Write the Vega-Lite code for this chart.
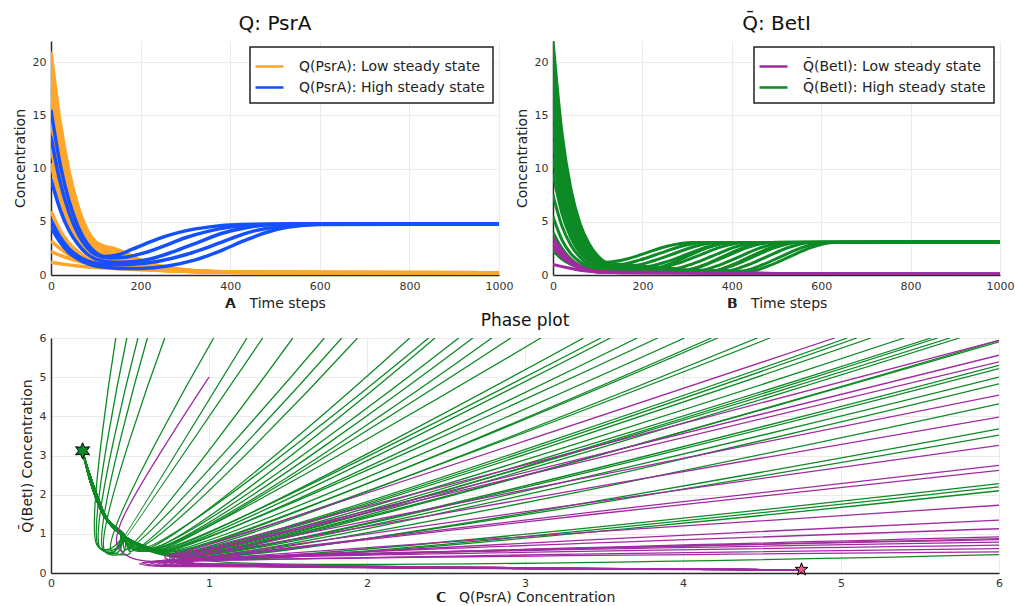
{
"$schema":"https://vega.github.io/schema/vega-lite/v6.json",
"background":"white",
"padding":{"left":13,"top":14,"right":5,"bottom":5},
"config":{
 "font":"DejaVu Sans",
 "view":{"stroke":null},
 "axis":{"domainColor":"#2b2b2b","domainWidth":1.5,"gridColor":"#ebebeb","gridWidth":1,"tickSize":0,"labelFontSize":11,"labelColor":"#333333","labelPadding":5,"labelFlush":false,"labelOverlap":false,"format":"d","titleFontSize":14,"titleFontWeight":"normal","titleColor":"#222222","titlePadding":5},
 "title":{"fontSize":20,"fontWeight":"normal","color":"#111111","offset":7},
 "legend":{"title":null,"orient":"top-right","offset":6,"strokeColor":"#222222","strokeWidth":1.5,"fillColor":"white","padding":8,"labelFontSize":14,"labelLimit":400,"labelColor":"#222222","symbolType":"M-1.4,0H1.4","symbolSize":400,"symbolStrokeWidth":2.5,"rowPadding":2,"labelOffset":18}
},
"datasets":{
"A":[
{"i":"o1","s":"L","t":0,"v":21},{"i":"o1","s":"L","t":20,"v":14.5},{"i":"o1","s":"L","t":40,"v":9.8},{"i":"o1","s":"L","t":60,"v":6.5},{"i":"o1","s":"L","t":80,"v":4.3},{"i":"o1","s":"L","t":100,"v":3.1},{"i":"o1","s":"L","t":120,"v":2.7},{"i":"o1","s":"L","t":140,"v":2.5},{"i":"o1","s":"L","t":170,"v":2.0},{"i":"o1","s":"L","t":200,"v":1.4},{"i":"o1","s":"L","t":250,"v":0.8},{"i":"o1","s":"L","t":300,"v":0.5},{"i":"o1","s":"L","t":400,"v":0.28},{"i":"o1","s":"L","t":500,"v":0.22},{"i":"o1","s":"L","t":1000,"v":0.2},
{"i":"o2","s":"L","t":0,"v":20},{"i":"o2","s":"L","t":20,"v":13.5},{"i":"o2","s":"L","t":40,"v":9},{"i":"o2","s":"L","t":60,"v":6},{"i":"o2","s":"L","t":80,"v":4},{"i":"o2","s":"L","t":100,"v":2.9},{"i":"o2","s":"L","t":120,"v":2.5},{"i":"o2","s":"L","t":150,"v":2.2},{"i":"o2","s":"L","t":200,"v":1.3},{"i":"o2","s":"L","t":250,"v":0.75},{"i":"o2","s":"L","t":300,"v":0.45},{"i":"o2","s":"L","t":400,"v":0.27},{"i":"o2","s":"L","t":500,"v":0.22},{"i":"o2","s":"L","t":1000,"v":0.2},
{"i":"o3","s":"L","t":0,"v":18.5},{"i":"o3","s":"L","t":20,"v":12.3},{"i":"o3","s":"L","t":40,"v":8.2},{"i":"o3","s":"L","t":60,"v":5.4},{"i":"o3","s":"L","t":80,"v":3.6},{"i":"o3","s":"L","t":100,"v":2.6},{"i":"o3","s":"L","t":130,"v":2.1},{"i":"o3","s":"L","t":170,"v":1.6},{"i":"o3","s":"L","t":220,"v":1.0},{"i":"o3","s":"L","t":280,"v":0.55},{"i":"o3","s":"L","t":350,"v":0.35},{"i":"o3","s":"L","t":450,"v":0.24},{"i":"o3","s":"L","t":1000,"v":0.2},
{"i":"o4","s":"L","t":0,"v":17},{"i":"o4","s":"L","t":20,"v":11.2},{"i":"o4","s":"L","t":40,"v":7.4},{"i":"o4","s":"L","t":60,"v":4.9},{"i":"o4","s":"L","t":80,"v":3.3},{"i":"o4","s":"L","t":100,"v":2.4},{"i":"o4","s":"L","t":130,"v":1.8},{"i":"o4","s":"L","t":170,"v":1.3},{"i":"o4","s":"L","t":220,"v":0.85},{"i":"o4","s":"L","t":280,"v":0.5},{"i":"o4","s":"L","t":350,"v":0.33},{"i":"o4","s":"L","t":450,"v":0.24},{"i":"o4","s":"L","t":1000,"v":0.2},
{"i":"o5","s":"L","t":0,"v":14.5},{"i":"o5","s":"L","t":20,"v":9.6},{"i":"o5","s":"L","t":40,"v":6.4},{"i":"o5","s":"L","t":60,"v":4.2},{"i":"o5","s":"L","t":80,"v":2.9},{"i":"o5","s":"L","t":100,"v":2.1},{"i":"o5","s":"L","t":130,"v":1.5},{"i":"o5","s":"L","t":170,"v":1.1},{"i":"o5","s":"L","t":220,"v":0.75},{"i":"o5","s":"L","t":280,"v":0.45},{"i":"o5","s":"L","t":350,"v":0.3},{"i":"o5","s":"L","t":450,"v":0.23},{"i":"o5","s":"L","t":1000,"v":0.2},
{"i":"o6","s":"L","t":0,"v":12},{"i":"o6","s":"L","t":20,"v":8},{"i":"o6","s":"L","t":40,"v":5.3},{"i":"o6","s":"L","t":60,"v":3.5},{"i":"o6","s":"L","t":80,"v":2.4},{"i":"o6","s":"L","t":100,"v":1.8},{"i":"o6","s":"L","t":130,"v":1.3},{"i":"o6","s":"L","t":170,"v":0.95},{"i":"o6","s":"L","t":220,"v":0.65},{"i":"o6","s":"L","t":300,"v":0.4},{"i":"o6","s":"L","t":400,"v":0.26},{"i":"o6","s":"L","t":1000,"v":0.2},
{"i":"o7","s":"L","t":0,"v":10.5},{"i":"o7","s":"L","t":20,"v":7},{"i":"o7","s":"L","t":40,"v":4.6},{"i":"o7","s":"L","t":60,"v":3.1},{"i":"o7","s":"L","t":80,"v":2.1},{"i":"o7","s":"L","t":100,"v":1.5},{"i":"o7","s":"L","t":130,"v":1.1},{"i":"o7","s":"L","t":170,"v":0.85},{"i":"o7","s":"L","t":220,"v":0.6},{"i":"o7","s":"L","t":300,"v":0.38},{"i":"o7","s":"L","t":400,"v":0.25},{"i":"o7","s":"L","t":1000,"v":0.2},
{"i":"o8","s":"L","t":0,"v":6},{"i":"o8","s":"L","t":20,"v":4.2},{"i":"o8","s":"L","t":40,"v":3},{"i":"o8","s":"L","t":60,"v":2.2},{"i":"o8","s":"L","t":80,"v":1.6},{"i":"o8","s":"L","t":100,"v":1.2},{"i":"o8","s":"L","t":130,"v":0.95},{"i":"o8","s":"L","t":170,"v":0.75},{"i":"o8","s":"L","t":220,"v":0.55},{"i":"o8","s":"L","t":300,"v":0.35},{"i":"o8","s":"L","t":400,"v":0.25},{"i":"o8","s":"L","t":1000,"v":0.2},
{"i":"o9","s":"L","t":0,"v":4.5},{"i":"o9","s":"L","t":20,"v":3.3},{"i":"o9","s":"L","t":40,"v":2.4},{"i":"o9","s":"L","t":60,"v":1.8},{"i":"o9","s":"L","t":80,"v":1.35},{"i":"o9","s":"L","t":100,"v":1.05},{"i":"o9","s":"L","t":140,"v":0.8},{"i":"o9","s":"L","t":200,"v":0.6},{"i":"o9","s":"L","t":300,"v":0.35},{"i":"o9","s":"L","t":400,"v":0.25},{"i":"o9","s":"L","t":1000,"v":0.2},
{"i":"o10","s":"L","t":0,"v":3.2},{"i":"o10","s":"L","t":20,"v":2.5},{"i":"o10","s":"L","t":40,"v":1.9},{"i":"o10","s":"L","t":60,"v":1.5},{"i":"o10","s":"L","t":80,"v":1.15},{"i":"o10","s":"L","t":100,"v":0.95},{"i":"o10","s":"L","t":140,"v":0.75},{"i":"o10","s":"L","t":200,"v":0.55},{"i":"o10","s":"L","t":300,"v":0.35},{"i":"o10","s":"L","t":400,"v":0.25},{"i":"o10","s":"L","t":1000,"v":0.2},
{"i":"o11","s":"L","t":0,"v":2.2},{"i":"o11","s":"L","t":30,"v":1.7},{"i":"o11","s":"L","t":60,"v":1.3},{"i":"o11","s":"L","t":100,"v":0.95},{"i":"o11","s":"L","t":150,"v":0.7},{"i":"o11","s":"L","t":200,"v":0.55},{"i":"o11","s":"L","t":300,"v":0.35},{"i":"o11","s":"L","t":400,"v":0.25},{"i":"o11","s":"L","t":1000,"v":0.2},
{"i":"o12","s":"L","t":0,"v":1.2},{"i":"o12","s":"L","t":30,"v":1.0},{"i":"o12","s":"L","t":60,"v":0.85},{"i":"o12","s":"L","t":100,"v":0.7},{"i":"o12","s":"L","t":150,"v":0.6},{"i":"o12","s":"L","t":200,"v":0.5},{"i":"o12","s":"L","t":300,"v":0.35},{"i":"o12","s":"L","t":400,"v":0.25},{"i":"o12","s":"L","t":1000,"v":0.2},
{"i":"b1","s":"H","t":0,"v":15.5},{"i":"b1","s":"H","t":20,"v":10.5},{"i":"b1","s":"H","t":40,"v":7},{"i":"b1","s":"H","t":60,"v":4.6},{"i":"b1","s":"H","t":80,"v":3},{"i":"b1","s":"H","t":100,"v":2.1},{"i":"b1","s":"H","t":120,"v":1.75},{"i":"b1","s":"H","t":150,"v":1.9},{"i":"b1","s":"H","t":180,"v":2.4},{"i":"b1","s":"H","t":220,"v":3.1},{"i":"b1","s":"H","t":260,"v":3.7},{"i":"b1","s":"H","t":300,"v":4.15},{"i":"b1","s":"H","t":350,"v":4.5},{"i":"b1","s":"H","t":400,"v":4.7},{"i":"b1","s":"H","t":500,"v":4.8},{"i":"b1","s":"H","t":1000,"v":4.8},
{"i":"b2","s":"H","t":0,"v":13},{"i":"b2","s":"H","t":20,"v":8.8},{"i":"b2","s":"H","t":40,"v":5.9},{"i":"b2","s":"H","t":60,"v":3.9},{"i":"b2","s":"H","t":80,"v":2.6},{"i":"b2","s":"H","t":100,"v":1.9},{"i":"b2","s":"H","t":130,"v":1.6},{"i":"b2","s":"H","t":170,"v":1.7},{"i":"b2","s":"H","t":210,"v":2.1},{"i":"b2","s":"H","t":250,"v":2.7},{"i":"b2","s":"H","t":300,"v":3.5},{"i":"b2","s":"H","t":350,"v":4.1},{"i":"b2","s":"H","t":400,"v":4.5},{"i":"b2","s":"H","t":450,"v":4.7},{"i":"b2","s":"H","t":550,"v":4.8},{"i":"b2","s":"H","t":1000,"v":4.8},
{"i":"b3","s":"H","t":0,"v":9},{"i":"b3","s":"H","t":20,"v":6.2},{"i":"b3","s":"H","t":40,"v":4.2},{"i":"b3","s":"H","t":60,"v":2.9},{"i":"b3","s":"H","t":80,"v":2.0},{"i":"b3","s":"H","t":100,"v":1.5},{"i":"b3","s":"H","t":140,"v":1.2},{"i":"b3","s":"H","t":180,"v":1.25},{"i":"b3","s":"H","t":230,"v":1.6},{"i":"b3","s":"H","t":280,"v":2.3},{"i":"b3","s":"H","t":330,"v":3.1},{"i":"b3","s":"H","t":380,"v":3.9},{"i":"b3","s":"H","t":430,"v":4.4},{"i":"b3","s":"H","t":480,"v":4.7},{"i":"b3","s":"H","t":580,"v":4.8},{"i":"b3","s":"H","t":1000,"v":4.8},
{"i":"b4","s":"H","t":0,"v":5.2},{"i":"b4","s":"H","t":20,"v":3.6},{"i":"b4","s":"H","t":40,"v":2.5},{"i":"b4","s":"H","t":60,"v":1.8},{"i":"b4","s":"H","t":80,"v":1.35},{"i":"b4","s":"H","t":100,"v":1.1},{"i":"b4","s":"H","t":140,"v":0.95},{"i":"b4","s":"H","t":180,"v":1.0},{"i":"b4","s":"H","t":240,"v":1.3},{"i":"b4","s":"H","t":300,"v":1.9},{"i":"b4","s":"H","t":350,"v":2.6},{"i":"b4","s":"H","t":400,"v":3.4},{"i":"b4","s":"H","t":450,"v":4.1},{"i":"b4","s":"H","t":500,"v":4.5},{"i":"b4","s":"H","t":550,"v":4.7},{"i":"b4","s":"H","t":620,"v":4.8},{"i":"b4","s":"H","t":1000,"v":4.8},
{"i":"b5","s":"H","t":0,"v":4.5},{"i":"b5","s":"H","t":20,"v":3.1},{"i":"b5","s":"H","t":40,"v":2.1},{"i":"b5","s":"H","t":60,"v":1.5},{"i":"b5","s":"H","t":80,"v":1.1},{"i":"b5","s":"H","t":100,"v":0.85},{"i":"b5","s":"H","t":130,"v":0.7},{"i":"b5","s":"H","t":165,"v":0.6},{"i":"b5","s":"H","t":200,"v":0.62},{"i":"b5","s":"H","t":260,"v":0.85},{"i":"b5","s":"H","t":320,"v":1.4},{"i":"b5","s":"H","t":380,"v":2.3},{"i":"b5","s":"H","t":430,"v":3.2},{"i":"b5","s":"H","t":480,"v":4.0},{"i":"b5","s":"H","t":530,"v":4.5},{"i":"b5","s":"H","t":600,"v":4.75},{"i":"b5","s":"H","t":1000,"v":4.8}
],
"B":[
{"i":"g1","s":"H","t":0,"v":22},{"i":"g1","s":"H","t":20,"v":13.4},{"i":"g1","s":"H","t":40,"v":8.1},{"i":"g1","s":"H","t":60,"v":4.9},{"i":"g1","s":"H","t":80,"v":3.0},{"i":"g1","s":"H","t":100,"v":1.8},{"i":"g1","s":"H","t":120,"v":1.2},{"i":"g1","s":"H","t":165,"v":1.5},{"i":"g1","s":"H","t":210,"v":2.1},{"i":"g1","s":"H","t":255,"v":2.7},{"i":"g1","s":"H","t":310,"v":3.05},{"i":"g1","s":"H","t":1000,"v":3.1},
{"i":"g2","s":"H","t":0,"v":21},{"i":"g2","s":"H","t":20,"v":12.7},{"i":"g2","s":"H","t":40,"v":7.7},{"i":"g2","s":"H","t":60,"v":4.7},{"i":"g2","s":"H","t":80,"v":2.8},{"i":"g2","s":"H","t":100,"v":1.7},{"i":"g2","s":"H","t":130,"v":1.0},{"i":"g2","s":"H","t":150,"v":1.0},{"i":"g2","s":"H","t":195,"v":1.42},{"i":"g2","s":"H","t":240,"v":2.05},{"i":"g2","s":"H","t":285,"v":2.68},{"i":"g2","s":"H","t":340,"v":3.05},{"i":"g2","s":"H","t":1000,"v":3.1},
{"i":"g3","s":"H","t":0,"v":20},{"i":"g3","s":"H","t":20,"v":12.1},{"i":"g3","s":"H","t":40,"v":7.4},{"i":"g3","s":"H","t":60,"v":4.5},{"i":"g3","s":"H","t":80,"v":2.7},{"i":"g3","s":"H","t":100,"v":1.6},{"i":"g3","s":"H","t":130,"v":0.9},{"i":"g3","s":"H","t":180,"v":0.9},{"i":"g3","s":"H","t":225,"v":1.34},{"i":"g3","s":"H","t":270,"v":2.0},{"i":"g3","s":"H","t":315,"v":2.66},{"i":"g3","s":"H","t":370,"v":3.05},{"i":"g3","s":"H","t":1000,"v":3.1},
{"i":"g4","s":"H","t":0,"v":19},{"i":"g4","s":"H","t":20,"v":11.5},{"i":"g4","s":"H","t":40,"v":7},{"i":"g4","s":"H","t":60,"v":4.2},{"i":"g4","s":"H","t":80,"v":2.6},{"i":"g4","s":"H","t":100,"v":1.6},{"i":"g4","s":"H","t":130,"v":0.8},{"i":"g4","s":"H","t":210,"v":0.8},{"i":"g4","s":"H","t":255,"v":1.26},{"i":"g4","s":"H","t":300,"v":1.95},{"i":"g4","s":"H","t":345,"v":2.64},{"i":"g4","s":"H","t":400,"v":3.05},{"i":"g4","s":"H","t":1000,"v":3.1},
{"i":"g5","s":"H","t":0,"v":18},{"i":"g5","s":"H","t":20,"v":10.9},{"i":"g5","s":"H","t":40,"v":6.6},{"i":"g5","s":"H","t":60,"v":4.0},{"i":"g5","s":"H","t":80,"v":2.4},{"i":"g5","s":"H","t":100,"v":1.5},{"i":"g5","s":"H","t":130,"v":0.7},{"i":"g5","s":"H","t":240,"v":0.7},{"i":"g5","s":"H","t":285,"v":1.18},{"i":"g5","s":"H","t":330,"v":1.9},{"i":"g5","s":"H","t":375,"v":2.62},{"i":"g5","s":"H","t":430,"v":3.05},{"i":"g5","s":"H","t":1000,"v":3.1},
{"i":"g6","s":"H","t":0,"v":17},{"i":"g6","s":"H","t":20,"v":10.3},{"i":"g6","s":"H","t":40,"v":6.3},{"i":"g6","s":"H","t":60,"v":3.8},{"i":"g6","s":"H","t":80,"v":2.3},{"i":"g6","s":"H","t":100,"v":1.4},{"i":"g6","s":"H","t":130,"v":0.6},{"i":"g6","s":"H","t":270,"v":0.6},{"i":"g6","s":"H","t":315,"v":1.1},{"i":"g6","s":"H","t":360,"v":1.85},{"i":"g6","s":"H","t":405,"v":2.6},{"i":"g6","s":"H","t":460,"v":3.05},{"i":"g6","s":"H","t":1000,"v":3.1},
{"i":"g7","s":"H","t":0,"v":15.5},{"i":"g7","s":"H","t":20,"v":9.4},{"i":"g7","s":"H","t":40,"v":5.7},{"i":"g7","s":"H","t":60,"v":3.5},{"i":"g7","s":"H","t":80,"v":2.1},{"i":"g7","s":"H","t":100,"v":1.3},{"i":"g7","s":"H","t":130,"v":0.5},{"i":"g7","s":"H","t":300,"v":0.5},{"i":"g7","s":"H","t":345,"v":1.02},{"i":"g7","s":"H","t":390,"v":1.8},{"i":"g7","s":"H","t":435,"v":2.58},{"i":"g7","s":"H","t":490,"v":3.05},{"i":"g7","s":"H","t":1000,"v":3.1},
{"i":"g8","s":"H","t":0,"v":14},{"i":"g8","s":"H","t":20,"v":8.5},{"i":"g8","s":"H","t":40,"v":5.2},{"i":"g8","s":"H","t":60,"v":3.1},{"i":"g8","s":"H","t":80,"v":1.9},{"i":"g8","s":"H","t":100,"v":1.15},{"i":"g8","s":"H","t":130,"v":0.45},{"i":"g8","s":"H","t":330,"v":0.45},{"i":"g8","s":"H","t":375,"v":0.98},{"i":"g8","s":"H","t":420,"v":1.78},{"i":"g8","s":"H","t":465,"v":2.57},{"i":"g8","s":"H","t":520,"v":3.05},{"i":"g8","s":"H","t":1000,"v":3.1},
{"i":"g9","s":"H","t":0,"v":12.5},{"i":"g9","s":"H","t":20,"v":7.6},{"i":"g9","s":"H","t":40,"v":4.6},{"i":"g9","s":"H","t":60,"v":2.8},{"i":"g9","s":"H","t":80,"v":1.7},{"i":"g9","s":"H","t":100,"v":1.0},{"i":"g9","s":"H","t":130,"v":0.4},{"i":"g9","s":"H","t":360,"v":0.4},{"i":"g9","s":"H","t":405,"v":0.94},{"i":"g9","s":"H","t":450,"v":1.75},{"i":"g9","s":"H","t":495,"v":2.56},{"i":"g9","s":"H","t":550,"v":3.05},{"i":"g9","s":"H","t":1000,"v":3.1},
{"i":"g10","s":"H","t":0,"v":11},{"i":"g10","s":"H","t":20,"v":6.7},{"i":"g10","s":"H","t":40,"v":4.0},{"i":"g10","s":"H","t":60,"v":2.5},{"i":"g10","s":"H","t":80,"v":1.5},{"i":"g10","s":"H","t":100,"v":0.9},{"i":"g10","s":"H","t":130,"v":0.4},{"i":"g10","s":"H","t":390,"v":0.4},{"i":"g10","s":"H","t":435,"v":0.94},{"i":"g10","s":"H","t":480,"v":1.75},{"i":"g10","s":"H","t":525,"v":2.56},{"i":"g10","s":"H","t":580,"v":3.05},{"i":"g10","s":"H","t":1000,"v":3.1},
{"i":"g11","s":"H","t":0,"v":9.5},{"i":"g11","s":"H","t":20,"v":5.8},{"i":"g11","s":"H","t":40,"v":3.5},{"i":"g11","s":"H","t":60,"v":2.1},{"i":"g11","s":"H","t":80,"v":1.3},{"i":"g11","s":"H","t":100,"v":0.8},{"i":"g11","s":"H","t":130,"v":0.35},{"i":"g11","s":"H","t":420,"v":0.35},{"i":"g11","s":"H","t":465,"v":0.9},{"i":"g11","s":"H","t":510,"v":1.73},{"i":"g11","s":"H","t":555,"v":2.55},{"i":"g11","s":"H","t":610,"v":3.05},{"i":"g11","s":"H","t":1000,"v":3.1},
{"i":"g12","s":"H","t":0,"v":7.5},{"i":"g12","s":"H","t":20,"v":4.6},{"i":"g12","s":"H","t":40,"v":2.8},{"i":"g12","s":"H","t":60,"v":1.7},{"i":"g12","s":"H","t":80,"v":1.0},{"i":"g12","s":"H","t":100,"v":0.62},{"i":"g12","s":"H","t":130,"v":0.35},{"i":"g12","s":"H","t":440,"v":0.35},{"i":"g12","s":"H","t":485,"v":0.9},{"i":"g12","s":"H","t":530,"v":1.73},{"i":"g12","s":"H","t":575,"v":2.55},{"i":"g12","s":"H","t":630,"v":3.05},{"i":"g12","s":"H","t":1000,"v":3.1},
{"i":"g13","s":"H","t":0,"v":5.5},{"i":"g13","s":"H","t":20,"v":3.3},{"i":"g13","s":"H","t":40,"v":2.0},{"i":"g13","s":"H","t":60,"v":1.25},{"i":"g13","s":"H","t":80,"v":0.75},{"i":"g13","s":"H","t":100,"v":0.45},{"i":"g13","s":"H","t":130,"v":0.3},{"i":"g13","s":"H","t":350,"v":0.3},{"i":"g13","s":"H","t":395,"v":0.86},{"i":"g13","s":"H","t":440,"v":1.7},{"i":"g13","s":"H","t":485,"v":2.54},{"i":"g13","s":"H","t":540,"v":3.05},{"i":"g13","s":"H","t":1000,"v":3.1},
{"i":"g14","s":"H","t":0,"v":4},{"i":"g14","s":"H","t":20,"v":2.5},{"i":"g14","s":"H","t":40,"v":1.5},{"i":"g14","s":"H","t":60,"v":0.9},{"i":"g14","s":"H","t":80,"v":0.55},{"i":"g14","s":"H","t":100,"v":0.4},{"i":"g14","s":"H","t":130,"v":0.35},{"i":"g14","s":"H","t":290,"v":0.35},{"i":"g14","s":"H","t":335,"v":0.9},{"i":"g14","s":"H","t":380,"v":1.73},{"i":"g14","s":"H","t":425,"v":2.55},{"i":"g14","s":"H","t":480,"v":3.05},{"i":"g14","s":"H","t":1000,"v":3.1},
{"i":"g15","s":"H","t":0,"v":2.3},{"i":"g15","s":"H","t":20,"v":1.5},{"i":"g15","s":"H","t":40,"v":1.0},{"i":"g15","s":"H","t":60,"v":0.7},{"i":"g15","s":"H","t":80,"v":0.5},{"i":"g15","s":"H","t":100,"v":0.42},{"i":"g15","s":"H","t":130,"v":0.4},{"i":"g15","s":"H","t":210,"v":0.4},{"i":"g15","s":"H","t":255,"v":0.94},{"i":"g15","s":"H","t":300,"v":1.75},{"i":"g15","s":"H","t":345,"v":2.56},{"i":"g15","s":"H","t":400,"v":3.05},{"i":"g15","s":"H","t":1000,"v":3.1},
{"i":"p1","s":"L","t":0,"v":3.5},{"i":"p1","s":"L","t":20,"v":2.3},{"i":"p1","s":"L","t":40,"v":1.4},{"i":"p1","s":"L","t":60,"v":0.85},{"i":"p1","s":"L","t":80,"v":0.5},{"i":"p1","s":"L","t":100,"v":0.3},{"i":"p1","s":"L","t":150,"v":0.22},{"i":"p1","s":"L","t":250,"v":0.2},{"i":"p1","s":"L","t":400,"v":0.15},{"i":"p1","s":"L","t":600,"v":0.1},{"i":"p1","s":"L","t":1000,"v":0.1},
{"i":"p2","s":"L","t":0,"v":3.0},{"i":"p2","s":"L","t":20,"v":2.0},{"i":"p2","s":"L","t":40,"v":1.2},{"i":"p2","s":"L","t":60,"v":0.75},{"i":"p2","s":"L","t":80,"v":0.45},{"i":"p2","s":"L","t":100,"v":0.3},{"i":"p2","s":"L","t":150,"v":0.22},{"i":"p2","s":"L","t":300,"v":0.2},{"i":"p2","s":"L","t":500,"v":0.15},{"i":"p2","s":"L","t":600,"v":0.1},{"i":"p2","s":"L","t":1000,"v":0.1},
{"i":"p3","s":"L","t":0,"v":2.6},{"i":"p3","s":"L","t":20,"v":1.7},{"i":"p3","s":"L","t":40,"v":1.05},{"i":"p3","s":"L","t":60,"v":0.65},{"i":"p3","s":"L","t":80,"v":0.4},{"i":"p3","s":"L","t":100,"v":0.27},{"i":"p3","s":"L","t":200,"v":0.22},{"i":"p3","s":"L","t":400,"v":0.18},{"i":"p3","s":"L","t":550,"v":0.12},{"i":"p3","s":"L","t":1000,"v":0.1},
{"i":"p4","s":"L","t":0,"v":1.0},{"i":"p4","s":"L","t":30,"v":0.7},{"i":"p4","s":"L","t":60,"v":0.45},{"i":"p4","s":"L","t":100,"v":0.3},{"i":"p4","s":"L","t":200,"v":0.25},{"i":"p4","s":"L","t":400,"v":0.2},{"i":"p4","s":"L","t":550,"v":0.12},{"i":"p4","s":"L","t":1000,"v":0.1}
],
"C":[
{"i":"g1","s":"G","x":0.41,"y":6},{"i":"g1","s":"G","x":0.29,"y":0.72},{"i":"g1","s":"G","x":0.36,"y":0.6},{"i":"g1","s":"G","x":0.45,"y":0.96},{"i":"g1","s":"G","x":0.35,"y":1.39},{"i":"g1","s":"G","x":0.27,"y":2.15},{"i":"g1","s":"G","x":0.2,"y":3.1},
{"i":"g2","s":"G","x":0.48,"y":6},{"i":"g2","s":"G","x":0.30,"y":0.68},{"i":"g2","s":"G","x":0.38,"y":0.57},{"i":"g2","s":"G","x":0.47,"y":0.93},{"i":"g2","s":"G","x":0.36,"y":1.36},{"i":"g2","s":"G","x":0.28,"y":2.12},{"i":"g2","s":"G","x":0.2,"y":3.1},
{"i":"g3","s":"G","x":0.55,"y":6},{"i":"g3","s":"G","x":0.31,"y":0.64},{"i":"g3","s":"G","x":0.40,"y":0.54},{"i":"g3","s":"G","x":0.44,"y":0.99},{"i":"g3","s":"G","x":0.34,"y":1.42},{"i":"g3","s":"G","x":0.26,"y":2.18},{"i":"g3","s":"G","x":0.2,"y":3.1},
{"i":"g4","s":"G","x":0.61,"y":6},{"i":"g4","s":"G","x":0.33,"y":0.6},{"i":"g4","s":"G","x":0.42,"y":0.52},{"i":"g4","s":"G","x":0.45,"y":0.96},{"i":"g4","s":"G","x":0.35,"y":1.39},{"i":"g4","s":"G","x":0.27,"y":2.15},{"i":"g4","s":"G","x":0.2,"y":3.1},
{"i":"g5","s":"G","x":0.72,"y":6},{"i":"g5","s":"G","x":0.34,"y":0.56},{"i":"g5","s":"G","x":0.45,"y":0.5},{"i":"g5","s":"G","x":0.47,"y":0.93},{"i":"g5","s":"G","x":0.36,"y":1.36},{"i":"g5","s":"G","x":0.28,"y":2.12},{"i":"g5","s":"G","x":0.2,"y":3.1},
{"i":"g6","s":"G","x":1.03,"y":6},{"i":"g6","s":"G","x":0.38,"y":0.58},{"i":"g6","s":"G","x":0.5,"y":0.5},{"i":"g6","s":"G","x":0.44,"y":0.99},{"i":"g6","s":"G","x":0.34,"y":1.42},{"i":"g6","s":"G","x":0.26,"y":2.18},{"i":"g6","s":"G","x":0.2,"y":3.1},
{"i":"g7","s":"G","x":1.24,"y":6},{"i":"g7","s":"G","x":0.40,"y":0.55},{"i":"g7","s":"G","x":0.45,"y":0.96},{"i":"g7","s":"G","x":0.35,"y":1.39},{"i":"g7","s":"G","x":0.27,"y":2.15},{"i":"g7","s":"G","x":0.2,"y":3.1},
{"i":"g8","s":"G","x":1.34,"y":6},{"i":"g8","s":"G","x":0.42,"y":0.6},{"i":"g8","s":"G","x":0.47,"y":0.93},{"i":"g8","s":"G","x":0.36,"y":1.36},{"i":"g8","s":"G","x":0.28,"y":2.12},{"i":"g8","s":"G","x":0.2,"y":3.1},
{"i":"g9","s":"G","x":1.53,"y":6},{"i":"g9","s":"G","x":0.45,"y":0.55},{"i":"g9","s":"G","x":0.44,"y":0.99},{"i":"g9","s":"G","x":0.34,"y":1.42},{"i":"g9","s":"G","x":0.26,"y":2.18},{"i":"g9","s":"G","x":0.2,"y":3.1},
{"i":"g10","s":"G","x":1.73,"y":6},{"i":"g10","s":"G","x":0.47,"y":0.6},{"i":"g10","s":"G","x":0.45,"y":0.96},{"i":"g10","s":"G","x":0.35,"y":1.39},{"i":"g10","s":"G","x":0.27,"y":2.15},{"i":"g10","s":"G","x":0.2,"y":3.1},
{"i":"g11","s":"G","x":1.84,"y":6},{"i":"g11","s":"G","x":0.5,"y":0.55},{"i":"g11","s":"G","x":0.47,"y":0.93},{"i":"g11","s":"G","x":0.36,"y":1.36},{"i":"g11","s":"G","x":0.28,"y":2.12},{"i":"g11","s":"G","x":0.2,"y":3.1},
{"i":"g12","s":"G","x":1.94,"y":6},{"i":"g12","s":"G","x":0.52,"y":0.6},{"i":"g12","s":"G","x":0.44,"y":0.99},{"i":"g12","s":"G","x":0.34,"y":1.42},{"i":"g12","s":"G","x":0.26,"y":2.18},{"i":"g12","s":"G","x":0.2,"y":3.1},
{"i":"g13","s":"G","x":2.27,"y":6},{"i":"g13","s":"G","x":0.55,"y":0.55},{"i":"g13","s":"G","x":0.45,"y":0.96},{"i":"g13","s":"G","x":0.35,"y":1.39},{"i":"g13","s":"G","x":0.27,"y":2.15},{"i":"g13","s":"G","x":0.2,"y":3.1},
{"i":"g14","s":"G","x":2.39,"y":6},{"i":"g14","s":"G","x":0.55,"y":0.6},{"i":"g14","s":"G","x":0.47,"y":0.93},{"i":"g14","s":"G","x":0.36,"y":1.36},{"i":"g14","s":"G","x":0.28,"y":2.12},{"i":"g14","s":"G","x":0.2,"y":3.1},
{"i":"g15","s":"G","x":2.43,"y":6},{"i":"g15","s":"G","x":0.58,"y":0.55},{"i":"g15","s":"G","x":0.44,"y":0.99},{"i":"g15","s":"G","x":0.34,"y":1.42},{"i":"g15","s":"G","x":0.26,"y":2.18},{"i":"g15","s":"G","x":0.2,"y":3.1},
{"i":"g16","s":"G","x":2.58,"y":6},{"i":"g16","s":"G","x":0.6,"y":0.6},{"i":"g16","s":"G","x":0.45,"y":0.96},{"i":"g16","s":"G","x":0.35,"y":1.39},{"i":"g16","s":"G","x":0.27,"y":2.15},{"i":"g16","s":"G","x":0.2,"y":3.1},
{"i":"g17","s":"G","x":2.67,"y":6},{"i":"g17","s":"G","x":0.6,"y":0.55},{"i":"g17","s":"G","x":0.47,"y":0.93},{"i":"g17","s":"G","x":0.36,"y":1.36},{"i":"g17","s":"G","x":0.28,"y":2.12},{"i":"g17","s":"G","x":0.2,"y":3.1},
{"i":"g18","s":"G","x":2.79,"y":6},{"i":"g18","s":"G","x":0.62,"y":0.6},{"i":"g18","s":"G","x":0.44,"y":0.99},{"i":"g18","s":"G","x":0.34,"y":1.42},{"i":"g18","s":"G","x":0.26,"y":2.18},{"i":"g18","s":"G","x":0.2,"y":3.1},
{"i":"g19","s":"G","x":2.91,"y":6},{"i":"g19","s":"G","x":0.65,"y":0.55},{"i":"g19","s":"G","x":0.58,"y":0.68},{"i":"g19","s":"G","x":0.45,"y":0.96},{"i":"g19","s":"G","x":0.35,"y":1.39},{"i":"g19","s":"G","x":0.27,"y":2.15},{"i":"g19","s":"G","x":0.2,"y":3.1},
{"i":"g20","s":"G","x":3.10,"y":6},{"i":"g20","s":"G","x":0.66,"y":0.6},{"i":"g20","s":"G","x":0.6,"y":0.68},{"i":"g20","s":"G","x":0.47,"y":0.93},{"i":"g20","s":"G","x":0.36,"y":1.36},{"i":"g20","s":"G","x":0.28,"y":2.12},{"i":"g20","s":"G","x":0.2,"y":3.1},
{"i":"g21","s":"G","x":3.37,"y":6},{"i":"g21","s":"G","x":0.68,"y":0.55},{"i":"g21","s":"G","x":0.6,"y":0.66},{"i":"g21","s":"G","x":0.44,"y":0.99},{"i":"g21","s":"G","x":0.34,"y":1.42},{"i":"g21","s":"G","x":0.26,"y":2.18},{"i":"g21","s":"G","x":0.2,"y":3.1},
{"i":"g22","s":"G","x":3.48,"y":6},{"i":"g22","s":"G","x":0.7,"y":0.6},{"i":"g22","s":"G","x":0.62,"y":0.66},{"i":"g22","s":"G","x":0.45,"y":0.96},{"i":"g22","s":"G","x":0.35,"y":1.39},{"i":"g22","s":"G","x":0.27,"y":2.15},{"i":"g22","s":"G","x":0.2,"y":3.1},
{"i":"g23","s":"G","x":3.54,"y":6},{"i":"g23","s":"G","x":0.7,"y":0.55},{"i":"g23","s":"G","x":0.62,"y":0.64},{"i":"g23","s":"G","x":0.47,"y":0.93},{"i":"g23","s":"G","x":0.36,"y":1.36},{"i":"g23","s":"G","x":0.28,"y":2.12},{"i":"g23","s":"G","x":0.2,"y":3.1},
{"i":"g24","s":"G","x":3.71,"y":6},{"i":"g24","s":"G","x":0.72,"y":0.55},{"i":"g24","s":"G","x":0.62,"y":0.64},{"i":"g24","s":"G","x":0.44,"y":0.99},{"i":"g24","s":"G","x":0.34,"y":1.42},{"i":"g24","s":"G","x":0.26,"y":2.18},{"i":"g24","s":"G","x":0.2,"y":3.1},
{"i":"g25","s":"G","x":3.84,"y":6},{"i":"g25","s":"G","x":0.74,"y":0.6},{"i":"g25","s":"G","x":0.62,"y":0.66},{"i":"g25","s":"G","x":0.45,"y":0.96},{"i":"g25","s":"G","x":0.35,"y":1.39},{"i":"g25","s":"G","x":0.27,"y":2.15},{"i":"g25","s":"G","x":0.2,"y":3.1},
{"i":"g26","s":"G","x":4.01,"y":6},{"i":"g26","s":"G","x":0.75,"y":0.55},{"i":"g26","s":"G","x":0.62,"y":0.64},{"i":"g26","s":"G","x":0.47,"y":0.93},{"i":"g26","s":"G","x":0.36,"y":1.36},{"i":"g26","s":"G","x":0.28,"y":2.12},{"i":"g26","s":"G","x":0.2,"y":3.1},
{"i":"g27","s":"G","x":4.18,"y":6},{"i":"g27","s":"G","x":0.76,"y":0.5},{"i":"g27","s":"G","x":0.62,"y":0.62},{"i":"g27","s":"G","x":0.44,"y":0.99},{"i":"g27","s":"G","x":0.34,"y":1.42},{"i":"g27","s":"G","x":0.26,"y":2.18},{"i":"g27","s":"G","x":0.2,"y":3.1},
{"i":"g28","s":"G","x":4.22,"y":6},{"i":"g28","s":"G","x":0.78,"y":0.55},{"i":"g28","s":"G","x":0.62,"y":0.64},{"i":"g28","s":"G","x":0.45,"y":0.96},{"i":"g28","s":"G","x":0.35,"y":1.39},{"i":"g28","s":"G","x":0.27,"y":2.15},{"i":"g28","s":"G","x":0.2,"y":3.1},
{"i":"g29","s":"G","x":4.47,"y":6},{"i":"g29","s":"G","x":0.8,"y":0.5},{"i":"g29","s":"G","x":0.62,"y":0.62},{"i":"g29","s":"G","x":0.47,"y":0.93},{"i":"g29","s":"G","x":0.36,"y":1.36},{"i":"g29","s":"G","x":0.28,"y":2.12},{"i":"g29","s":"G","x":0.2,"y":3.1},
{"i":"g30","s":"G","x":4.55,"y":6},{"i":"g30","s":"G","x":0.8,"y":0.55},{"i":"g30","s":"G","x":0.62,"y":0.64},{"i":"g30","s":"G","x":0.44,"y":0.99},{"i":"g30","s":"G","x":0.34,"y":1.42},{"i":"g30","s":"G","x":0.26,"y":2.18},{"i":"g30","s":"G","x":0.2,"y":3.1},
{"i":"g31","s":"G","x":5.04,"y":6},{"i":"g31","s":"G","x":0.82,"y":0.5},{"i":"g31","s":"G","x":0.62,"y":0.62},{"i":"g31","s":"G","x":0.45,"y":0.96},{"i":"g31","s":"G","x":0.35,"y":1.39},{"i":"g31","s":"G","x":0.27,"y":2.15},{"i":"g31","s":"G","x":0.2,"y":3.1},
{"i":"g32","s":"G","x":5.10,"y":6},{"i":"g32","s":"G","x":0.84,"y":0.5},{"i":"g32","s":"G","x":0.62,"y":0.62},{"i":"g32","s":"G","x":0.47,"y":0.93},{"i":"g32","s":"G","x":0.36,"y":1.36},{"i":"g32","s":"G","x":0.28,"y":2.12},{"i":"g32","s":"G","x":0.2,"y":3.1},
{"i":"g33","s":"G","x":5.19,"y":6},{"i":"g33","s":"G","x":0.85,"y":0.5},{"i":"g33","s":"G","x":0.62,"y":0.62},{"i":"g33","s":"G","x":0.44,"y":0.99},{"i":"g33","s":"G","x":0.34,"y":1.42},{"i":"g33","s":"G","x":0.26,"y":2.18},{"i":"g33","s":"G","x":0.2,"y":3.1},
{"i":"g34","s":"G","x":5.40,"y":6},{"i":"g34","s":"G","x":0.86,"y":0.5},{"i":"g34","s":"G","x":0.62,"y":0.62},{"i":"g34","s":"G","x":0.45,"y":0.96},{"i":"g34","s":"G","x":0.35,"y":1.39},{"i":"g34","s":"G","x":0.27,"y":2.15},{"i":"g34","s":"G","x":0.2,"y":3.1},
{"i":"g35","s":"G","x":5.57,"y":6},{"i":"g35","s":"G","x":0.88,"y":0.5},{"i":"g35","s":"G","x":0.62,"y":0.62},{"i":"g35","s":"G","x":0.47,"y":0.93},{"i":"g35","s":"G","x":0.36,"y":1.36},{"i":"g35","s":"G","x":0.28,"y":2.12},{"i":"g35","s":"G","x":0.2,"y":3.1},
{"i":"g36","s":"G","x":5.61,"y":6},{"i":"g36","s":"G","x":0.88,"y":0.45},{"i":"g36","s":"G","x":0.62,"y":0.6},{"i":"g36","s":"G","x":0.44,"y":0.99},{"i":"g36","s":"G","x":0.34,"y":1.42},{"i":"g36","s":"G","x":0.26,"y":2.18},{"i":"g36","s":"G","x":0.2,"y":3.1},
{"i":"g37","s":"G","x":5.69,"y":6},{"i":"g37","s":"G","x":0.9,"y":0.5},{"i":"g37","s":"G","x":0.62,"y":0.62},{"i":"g37","s":"G","x":0.45,"y":0.96},{"i":"g37","s":"G","x":0.35,"y":1.39},{"i":"g37","s":"G","x":0.27,"y":2.15},{"i":"g37","s":"G","x":0.2,"y":3.1},
{"i":"g38","s":"G","x":5.75,"y":6},{"i":"g38","s":"G","x":0.9,"y":0.45},{"i":"g38","s":"G","x":0.62,"y":0.6},{"i":"g38","s":"G","x":0.47,"y":0.93},{"i":"g38","s":"G","x":0.36,"y":1.36},{"i":"g38","s":"G","x":0.28,"y":2.12},{"i":"g38","s":"G","x":0.2,"y":3.1},
{"i":"g39","s":"G","x":6,"y":5.94},{"i":"g39","s":"G","x":0.9,"y":0.45},{"i":"g39","s":"G","x":0.62,"y":0.6},{"i":"g39","s":"G","x":0.44,"y":0.99},{"i":"g39","s":"G","x":0.34,"y":1.42},{"i":"g39","s":"G","x":0.26,"y":2.18},{"i":"g39","s":"G","x":0.2,"y":3.1},
{"i":"g40","s":"G","x":6,"y":5.9},{"i":"g40","s":"G","x":0.92,"y":0.5},{"i":"g40","s":"G","x":0.62,"y":0.62},{"i":"g40","s":"G","x":0.45,"y":0.96},{"i":"g40","s":"G","x":0.35,"y":1.39},{"i":"g40","s":"G","x":0.27,"y":2.15},{"i":"g40","s":"G","x":0.2,"y":3.1},
{"i":"g41","s":"G","x":6,"y":5.30},{"i":"g41","s":"G","x":0.92,"y":0.45},{"i":"g41","s":"G","x":0.62,"y":0.6},{"i":"g41","s":"G","x":0.47,"y":0.93},{"i":"g41","s":"G","x":0.36,"y":1.36},{"i":"g41","s":"G","x":0.28,"y":2.12},{"i":"g41","s":"G","x":0.2,"y":3.1},
{"i":"g42","s":"G","x":6,"y":5.22},{"i":"g42","s":"G","x":0.93,"y":0.45},{"i":"g42","s":"G","x":0.62,"y":0.6},{"i":"g42","s":"G","x":0.44,"y":0.99},{"i":"g42","s":"G","x":0.34,"y":1.42},{"i":"g42","s":"G","x":0.26,"y":2.18},{"i":"g42","s":"G","x":0.2,"y":3.1},
{"i":"g43","s":"G","x":6,"y":5.0},{"i":"g43","s":"G","x":0.95,"y":0.45},{"i":"g43","s":"G","x":0.62,"y":0.6},{"i":"g43","s":"G","x":0.45,"y":0.96},{"i":"g43","s":"G","x":0.35,"y":1.39},{"i":"g43","s":"G","x":0.27,"y":2.15},{"i":"g43","s":"G","x":0.2,"y":3.1},
{"i":"g44","s":"G","x":6,"y":4.83},{"i":"g44","s":"G","x":0.95,"y":0.42},{"i":"g44","s":"G","x":0.62,"y":0.6},{"i":"g44","s":"G","x":0.47,"y":0.93},{"i":"g44","s":"G","x":0.36,"y":1.36},{"i":"g44","s":"G","x":0.28,"y":2.12},{"i":"g44","s":"G","x":0.2,"y":3.1},
{"i":"g45","s":"G","x":6,"y":4.32},{"i":"g45","s":"G","x":0.97,"y":0.42},{"i":"g45","s":"G","x":0.62,"y":0.6},{"i":"g45","s":"G","x":0.44,"y":0.99},{"i":"g45","s":"G","x":0.34,"y":1.42},{"i":"g45","s":"G","x":0.26,"y":2.18},{"i":"g45","s":"G","x":0.2,"y":3.1},
{"i":"g46","s":"G","x":6,"y":3.68},{"i":"g46","s":"G","x":1.0,"y":0.4},{"i":"g46","s":"G","x":0.62,"y":0.6},{"i":"g46","s":"G","x":0.45,"y":0.96},{"i":"g46","s":"G","x":0.35,"y":1.39},{"i":"g46","s":"G","x":0.27,"y":2.15},{"i":"g46","s":"G","x":0.2,"y":3.1},
{"i":"g47","s":"G","x":6,"y":3.52},{"i":"g47","s":"G","x":1.0,"y":0.42},{"i":"g47","s":"G","x":0.62,"y":0.6},{"i":"g47","s":"G","x":0.47,"y":0.93},{"i":"g47","s":"G","x":0.36,"y":1.36},{"i":"g47","s":"G","x":0.28,"y":2.12},{"i":"g47","s":"G","x":0.2,"y":3.1},
{"i":"g48","s":"G","x":6,"y":2.28},{"i":"g48","s":"G","x":1.05,"y":0.38},{"i":"g48","s":"G","x":0.62,"y":0.58},{"i":"g48","s":"G","x":0.44,"y":0.99},{"i":"g48","s":"G","x":0.34,"y":1.42},{"i":"g48","s":"G","x":0.26,"y":2.18},{"i":"g48","s":"G","x":0.2,"y":3.1},
{"i":"g49","s":"G","x":6,"y":2.20},{"i":"g49","s":"G","x":1.05,"y":0.35},{"i":"g49","s":"G","x":0.62,"y":0.58},{"i":"g49","s":"G","x":0.45,"y":0.96},{"i":"g49","s":"G","x":0.35,"y":1.39},{"i":"g49","s":"G","x":0.27,"y":2.15},{"i":"g49","s":"G","x":0.2,"y":3.1},
{"i":"g50","s":"G","x":6,"y":2.10},{"i":"g50","s":"G","x":1.1,"y":0.35},{"i":"g50","s":"G","x":0.62,"y":0.58},{"i":"g50","s":"G","x":0.47,"y":0.93},{"i":"g50","s":"G","x":0.36,"y":1.36},{"i":"g50","s":"G","x":0.28,"y":2.12},{"i":"g50","s":"G","x":0.2,"y":3.1},
{"i":"g51","s":"G","x":6,"y":0.47},{"i":"g51","s":"G","x":1.1,"y":0.28},{"i":"g51","s":"G","x":0.62,"y":0.56},{"i":"g51","s":"G","x":0.44,"y":0.99},{"i":"g51","s":"G","x":0.34,"y":1.42},{"i":"g51","s":"G","x":0.26,"y":2.18},{"i":"g51","s":"G","x":0.2,"y":3.1},
{"i":"p1","s":"P","x":6,"y":5.94},{"i":"p1","s":"P","x":0.9,"y":0.55},{"i":"p1","s":"P","x":0.76,"y":0.42},{"i":"p1","s":"P","x":0.82,"y":0.28},{"i":"p1","s":"P","x":1.2,"y":0.22},{"i":"p1","s":"P","x":2.8,"y":0.14},{"i":"p1","s":"P","x":4.75,"y":0.08},
{"i":"p2","s":"P","x":6,"y":5.56},{"i":"p2","s":"P","x":0.9,"y":0.5},{"i":"p2","s":"P","x":0.75,"y":0.38},{"i":"p2","s":"P","x":0.8,"y":0.26},{"i":"p2","s":"P","x":1.2,"y":0.2},{"i":"p2","s":"P","x":2.8,"y":0.13},{"i":"p2","s":"P","x":4.75,"y":0.08},
{"i":"p3","s":"P","x":6,"y":5.39},{"i":"p3","s":"P","x":0.92,"y":0.5},{"i":"p3","s":"P","x":0.78,"y":0.38},{"i":"p3","s":"P","x":0.83,"y":0.27},{"i":"p3","s":"P","x":1.2,"y":0.21},{"i":"p3","s":"P","x":2.8,"y":0.14},{"i":"p3","s":"P","x":4.75,"y":0.08},
{"i":"p4","s":"P","x":6,"y":4.54},{"i":"p4","s":"P","x":0.95,"y":0.48},{"i":"p4","s":"P","x":0.8,"y":0.37},{"i":"p4","s":"P","x":0.85,"y":0.26},{"i":"p4","s":"P","x":1.2,"y":0.2},{"i":"p4","s":"P","x":2.8,"y":0.13},{"i":"p4","s":"P","x":4.75,"y":0.08},
{"i":"p5","s":"P","x":6,"y":3.98},{"i":"p5","s":"P","x":0.95,"y":0.45},{"i":"p5","s":"P","x":0.8,"y":0.34},{"i":"p5","s":"P","x":0.85,"y":0.24},{"i":"p5","s":"P","x":1.2,"y":0.19},{"i":"p5","s":"P","x":2.8,"y":0.13},{"i":"p5","s":"P","x":4.75,"y":0.08},
{"i":"p6","s":"P","x":6,"y":3.26},{"i":"p6","s":"P","x":1.0,"y":0.42},{"i":"p6","s":"P","x":0.85,"y":0.32},{"i":"p6","s":"P","x":0.9,"y":0.23},{"i":"p6","s":"P","x":1.2,"y":0.19},{"i":"p6","s":"P","x":2.8,"y":0.12},{"i":"p6","s":"P","x":4.75,"y":0.08},
{"i":"p7","s":"P","x":6,"y":2.75},{"i":"p7","s":"P","x":1.0,"y":0.4},{"i":"p7","s":"P","x":0.84,"y":0.3},{"i":"p7","s":"P","x":0.9,"y":0.22},{"i":"p7","s":"P","x":1.2,"y":0.18},{"i":"p7","s":"P","x":2.8,"y":0.12},{"i":"p7","s":"P","x":4.75,"y":0.08},
{"i":"p8","s":"P","x":6,"y":2.62},{"i":"p8","s":"P","x":1.0,"y":0.4},{"i":"p8","s":"P","x":0.86,"y":0.31},{"i":"p8","s":"P","x":0.92,"y":0.22},{"i":"p8","s":"P","x":1.2,"y":0.19},{"i":"p8","s":"P","x":2.8,"y":0.13},{"i":"p8","s":"P","x":4.75,"y":0.08},
{"i":"p9","s":"P","x":6,"y":1.73},{"i":"p9","s":"P","x":1.05,"y":0.38},{"i":"p9","s":"P","x":0.88,"y":0.3},{"i":"p9","s":"P","x":0.93,"y":0.22},{"i":"p9","s":"P","x":1.2,"y":0.18},{"i":"p9","s":"P","x":2.8,"y":0.12},{"i":"p9","s":"P","x":4.75,"y":0.08},
{"i":"p10","s":"P","x":6,"y":1.35},{"i":"p10","s":"P","x":1.05,"y":0.35},{"i":"p10","s":"P","x":0.88,"y":0.28},{"i":"p10","s":"P","x":0.94,"y":0.21},{"i":"p10","s":"P","x":1.2,"y":0.18},{"i":"p10","s":"P","x":2.8,"y":0.12},{"i":"p10","s":"P","x":4.75,"y":0.08},
{"i":"p11","s":"P","x":6,"y":1.13},{"i":"p11","s":"P","x":1.0,"y":0.35},{"i":"p11","s":"P","x":0.85,"y":0.28},{"i":"p11","s":"P","x":0.9,"y":0.2},{"i":"p11","s":"P","x":1.2,"y":0.17},{"i":"p11","s":"P","x":2.8,"y":0.12},{"i":"p11","s":"P","x":4.75,"y":0.08},
{"i":"p12","s":"P","x":6,"y":0.92},{"i":"p12","s":"P","x":0.95,"y":0.33},{"i":"p12","s":"P","x":0.8,"y":0.27},{"i":"p12","s":"P","x":0.86,"y":0.2},{"i":"p12","s":"P","x":1.2,"y":0.17},{"i":"p12","s":"P","x":2.8,"y":0.12},{"i":"p12","s":"P","x":4.75,"y":0.08},
{"i":"p13","s":"P","x":6,"y":0.88},{"i":"p13","s":"P","x":0.9,"y":0.33},{"i":"p13","s":"P","x":0.75,"y":0.27},{"i":"p13","s":"P","x":0.82,"y":0.2},{"i":"p13","s":"P","x":1.2,"y":0.17},{"i":"p13","s":"P","x":2.8,"y":0.12},{"i":"p13","s":"P","x":4.75,"y":0.08},
{"i":"p14","s":"P","x":6,"y":0.85},{"i":"p14","s":"P","x":0.85,"y":0.35},{"i":"p14","s":"P","x":0.7,"y":0.28},{"i":"p14","s":"P","x":0.76,"y":0.21},{"i":"p14","s":"P","x":1.2,"y":0.18},{"i":"p14","s":"P","x":2.8,"y":0.12},{"i":"p14","s":"P","x":4.75,"y":0.08},
{"i":"p15","s":"P","x":6,"y":0.79},{"i":"p15","s":"P","x":0.8,"y":0.35},{"i":"p15","s":"P","x":0.66,"y":0.29},{"i":"p15","s":"P","x":0.72,"y":0.22},{"i":"p15","s":"P","x":1.2,"y":0.18},{"i":"p15","s":"P","x":2.8,"y":0.12},{"i":"p15","s":"P","x":4.75,"y":0.08},
{"i":"p16","s":"P","x":6,"y":0.71},{"i":"p16","s":"P","x":0.75,"y":0.33},{"i":"p16","s":"P","x":0.62,"y":0.28},{"i":"p16","s":"P","x":0.68,"y":0.21},{"i":"p16","s":"P","x":1.2,"y":0.17},{"i":"p16","s":"P","x":2.8,"y":0.12},{"i":"p16","s":"P","x":4.75,"y":0.08},
{"i":"p17","s":"P","x":6,"y":0.62},{"i":"p17","s":"P","x":0.7,"y":0.3},{"i":"p17","s":"P","x":0.58,"y":0.26},{"i":"p17","s":"P","x":0.64,"y":0.2},{"i":"p17","s":"P","x":1.2,"y":0.17},{"i":"p17","s":"P","x":2.8,"y":0.12},{"i":"p17","s":"P","x":4.75,"y":0.08},
{"i":"p18","s":"P","x":6,"y":0.54},{"i":"p18","s":"P","x":0.65,"y":0.28},{"i":"p18","s":"P","x":0.56,"y":0.24},{"i":"p18","s":"P","x":0.62,"y":0.19},{"i":"p18","s":"P","x":1.2,"y":0.16},{"i":"p18","s":"P","x":2.8,"y":0.11},{"i":"p18","s":"P","x":4.75,"y":0.08},
{"i":"p19","s":"P","x":4.96,"y":6},{"i":"p19","s":"P","x":0.85,"y":0.55},{"i":"p19","s":"P","x":0.72,"y":0.42},{"i":"p19","s":"P","x":0.78,"y":0.28},{"i":"p19","s":"P","x":1.2,"y":0.22},{"i":"p19","s":"P","x":2.8,"y":0.14},{"i":"p19","s":"P","x":4.75,"y":0.08},
{"i":"p20","s":"P","x":1.0,"y":5.0},{"i":"p20","s":"P","x":0.44,"y":1.26},{"i":"p20","s":"P","x":0.42,"y":0.7},{"i":"p20","s":"P","x":0.5,"y":0.4},{"i":"p20","s":"P","x":0.62,"y":0.3},{"i":"p20","s":"P","x":1.2,"y":0.22},{"i":"p20","s":"P","x":2.8,"y":0.14},{"i":"p20","s":"P","x":4.75,"y":0.08}
]
},
"spacing":2,
"resolve":{"scale":{"color":"independent"},"legend":{"color":"independent"}},
"vconcat":[
{"hconcat":[
 {"data":{"name":"A"},"width":448,"height":234,
  "title":{"text":"Q: PsrA"},
  "mark":{"type":"line","strokeWidth":3.5,"interpolate":"monotone","clip":true},
  "encoding":{
   "x":{"field":"t","type":"quantitative","scale":{"domain":[0,1000],"nice":false},"axis":{"values":[0,200,400,600,800,1000],"title":"𝗔\u00a0\u00a0\u00a0Time steps"}},
   "y":{"field":"v","type":"quantitative","scale":{"domain":[0,22],"nice":false},"axis":{"values":[0,5,10,15,20],"title":"Concentration"}},
   "detail":{"field":"i"},
   "color":{"field":"s","type":"nominal","scale":{"domain":["L","H"],"range":["#ffa62b","#1550ff"]},"legend":{"labelExpr":"datum.label == 'L' ? 'Q(PsrA): Low steady state' : 'Q(PsrA): High steady state'"}}
  }},
 {"data":{"name":"B"},"width":447,"height":234,
  "title":{"text":"Q\u0304: BetI"},
  "mark":{"type":"line","strokeWidth":3,"interpolate":"monotone","clip":true},
  "encoding":{
   "x":{"field":"t","type":"quantitative","scale":{"domain":[0,1000],"nice":false},"axis":{"values":[0,200,400,600,800,1000],"title":"𝗕\u00a0\u00a0\u00a0Time steps"}},
   "y":{"field":"v","type":"quantitative","scale":{"domain":[0,22],"nice":false},"axis":{"values":[0,5,10,15,20],"title":"Concentration"}},
   "detail":{"field":"i"},
   "color":{"field":"s","type":"nominal","scale":{"domain":["L","H"],"range":["#a02ba0","#0d8a25"]},"legend":{"labelExpr":"datum.label == 'L' ? 'Q\u0304(BetI): Low steady state' : 'Q\u0304(BetI): High steady state'"}}
  }}
 ],
 "spacing":54,
 "bounds":"flush",
 "resolve":{"scale":{"color":"independent"},"legend":{"color":"independent"}}
},
{"width":948,"height":235,
 "title":{"text":"Phase plot","fontSize":17,"offset":2},
 "encoding":{
  "x":{"field":"x","type":"quantitative","scale":{"domain":[0,6],"nice":false},"axis":{"values":[0,1,2,3,4,5,6],"title":"𝗖\u00a0\u00a0\u00a0Q(PsrA) Concentration","titlePadding":2,"labelPadding":4}},
  "y":{"field":"y","type":"quantitative","scale":{"domain":[0,6],"nice":false},"axis":{"values":[0,1,2,3,4,5,6],"title":"Q\u0304(BetI) Concentration"}}
 },
 "layer":[
  {"data":{"name":"C"},
   "mark":{"type":"line","strokeWidth":1.3,"interpolate":"catmull-rom","clip":true},
   "encoding":{
    "detail":{"field":"i"},
    "order":{"value":null},
    "color":{"field":"s","type":"nominal","scale":{"domain":["G","P"],"range":["#0d8a25","#a02ba0"]},"legend":null}
   }},
  {"data":{"values":[{"x":0.2,"y":3.12}]},
   "mark":{"type":"point","shape":"M0,-1L0.25,-0.433L0.866,-0.5L0.5,0L0.866,0.5L0.25,0.433L0,1L-0.25,0.433L-0.866,0.5L-0.5,0L-0.866,-0.5L-0.25,-0.433Z","filled":true,"fill":"#0d8a25","stroke":"#000000","strokeWidth":1,"size":260,"opacity":1}},
  {"data":{"values":[{"x":4.75,"y":0.09}]},
   "mark":{"type":"point","shape":"M0,-1L0.235,-0.324L0.951,-0.309L0.380,0.124L0.588,0.809L0,0.4L-0.588,0.809L-0.380,0.124L-0.951,-0.309L-0.235,-0.324Z","filled":true,"fill":"#ee5a86","stroke":"#000000","strokeWidth":1,"size":180,"opacity":1}}
 ]
}
]
}
